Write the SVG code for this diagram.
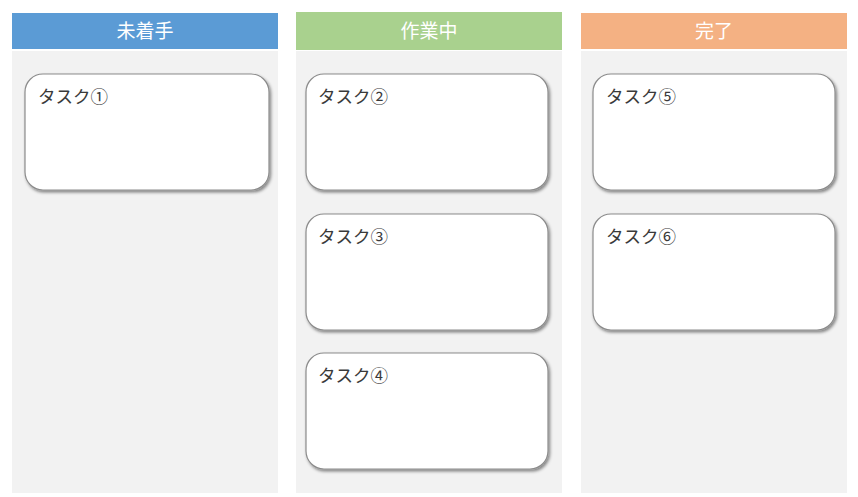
<svg xmlns="http://www.w3.org/2000/svg" width="858" height="497" viewBox="0 0 858 497">
<defs>
<filter id="sh" x="-10%" y="-10%" width="125%" height="130%">
<feDropShadow dx="1.5" dy="2" stdDeviation="1.5" flood-color="#000" flood-opacity="0.45"/>
</filter>
<style>
.panel{fill:#f2f2f2}
.hdr-t{font-family:"Liberation Sans","Noto Sans CJK JP",sans-serif;font-size:19px;fill:#ffffff;text-anchor:middle}
.card{fill:#ffffff;stroke:#8c8c8c;stroke-width:1.2;filter:url(#sh)}
.card-t{font-family:"Liberation Sans","Noto Sans CJK JP",sans-serif;font-size:17.5px;fill:#3a3a3a}
</style>
</defs>
<rect width="858" height="497" fill="#ffffff"/>
<g id="col-todo">
<rect class="panel" x="12" y="51" width="266" height="442"/>
<rect x="12" y="13" width="266" height="36" fill="#5b9bd5"/>
<text class="hdr-t" x="145" y="38">未着手</text>
</g>
<g id="col-doing">
<rect class="panel" x="296" y="51" width="266" height="442"/>
<rect x="296" y="12" width="266" height="38" fill="#a9d18e"/>
<text class="hdr-t" x="429" y="38">作業中</text>
</g>
<g id="col-done">
<rect class="panel" x="581" y="51" width="266" height="442"/>
<rect x="581" y="13" width="266" height="36" fill="#f4b183"/>
<text class="hdr-t" x="714" y="38">完了</text>
</g>
<g id="task1">
<rect class="card" x="25" y="74" width="244" height="116" rx="18"/>
<text class="card-t" x="38" y="103">タスク①</text>
</g>
<g id="task2">
<rect class="card" x="306" y="74" width="242" height="116" rx="18"/>
<text class="card-t" x="318" y="103">タスク②</text>
</g>
<g id="task3">
<rect class="card" x="306" y="214" width="242" height="116" rx="18"/>
<text class="card-t" x="318" y="243">タスク③</text>
</g>
<g id="task4">
<rect class="card" x="306" y="353" width="242" height="116" rx="18"/>
<text class="card-t" x="318" y="382">タスク④</text>
</g>
<g id="task5">
<rect class="card" x="593" y="74" width="242" height="116" rx="18"/>
<text class="card-t" x="606" y="103">タスク⑤</text>
</g>
<g id="task6">
<rect class="card" x="593" y="214" width="242" height="116" rx="18"/>
<text class="card-t" x="606" y="243">タスク⑥</text>
</g>
<g id="connectors"/>
</svg>
